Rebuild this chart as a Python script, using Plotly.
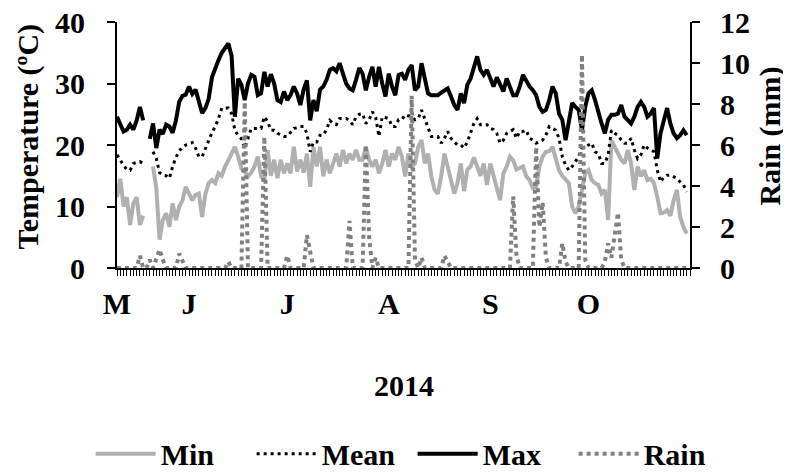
import pandas as pd
import plotly.graph_objects as go

# Daily series, 10 May 2014 - 31 Oct 2014 (175 days)
dates = pd.date_range("2014-05-10", periods=175, freq="D")

t_max = [
    24.6, 23.5, 22.2, 22.5, 23.3, 22.5, 24.0, 26.2, 24.0, None,
    21.0, 23.5, 19.5, 22.5, 21.8, 23.3, 23.0, 22.0, 24.0, 27.0,
    28.0, 28.2, 29.5, 28.3, 29.0, 27.0, 25.2, 26.0, 27.5, 31.0,
    32.5, 33.8, 35.0, 35.8, 36.5, 34.5, 24.6, 30.8, 29.8, 27.3,
    30.0, 31.4, 31.1, 28.1, 28.4, 31.9, 29.5, 31.5, 30.0, 27.3,
    27.0, 28.7, 27.3, 28.1, 29.5, 28.4, 26.5, 29.0, 30.5, 24.0,
    27.3, 25.5, 29.0, 29.5, 30.6, 32.2, 32.5, 32.0, 33.3, 31.6,
    30.0, 29.2, 28.9, 30.6, 32.5, 31.6, 28.9, 31.1, 32.7, 29.5,
    32.7, 30.0, 27.9, 31.6, 29.5, 28.1, 31.4, 31.6, 30.6, 32.2,
    33.0, 28.9, 29.5, 33.3, 30.6, 28.4, 28.1, 28.1, 28.1, 28.5,
    28.9, 29.2, 27.9, 26.5, 25.7, 28.4, 26.8, 29.8, 30.8, 32.5,
    34.4, 32.2, 31.4, 32.2, 30.6, 29.5, 31.0, 30.0, 28.7, 30.8,
    29.5, 28.1, 28.1, 29.5, 31.4, 30.3, 29.5, 28.9, 28.1, 26.2,
    25.4, 25.7, 27.3, 29.5, 28.4, 25.1, 24.1, 20.8, 24.1, 26.8,
    26.2, 25.7, 22.4, 26.2, 28.4, 28.9, 27.3, 25.1, 23.5, 21.9,
    24.1, 24.9, 24.9, 25.1, 26.5, 24.6, 24.0, 23.5, 24.6, 26.2,
    27.0, 26.2, 24.6, 25.1, 26.0, 17.8, 21.9, 24.1, 26.0, 23.5,
    21.9, 21.1, 21.6, 22.4, 21.6,
]

t_mean = [
    18.4, 17.5, 16.7, 16.0, 15.9, 17.0, 17.2, 17.3, 17.0, None,
    None, 18.9, 17.8, 15.5, 15.1, 15.0, 14.6, 16.5, 18.0, 19.0,
    19.7, 20.0, 20.2, 20.4, 19.5, 18.1, 18.1, 19.5, 20.8, 22.0,
    23.0, 24.3, 26.0, 26.0, 26.0, 25.1, 22.4, 21.5, 21.0, 19.5,
    21.0, 22.7, 22.7, 22.7, 22.7, 24.6, 23.8, 22.4, 22.4, 21.9,
    21.6, 21.4, 21.4, 22.0, 22.7, 22.8, 23.0, 23.0, 21.9, 18.9,
    20.5, 20.5, 21.6, 21.6, 22.5, 24.0, 23.5, 23.3, 24.3, 24.3,
    24.3, 24.0, 23.3, 24.6, 25.0, 25.1, 23.5, 24.1, 25.4, 24.5,
    21.4, 24.6, 24.5, 24.3, 23.0, 23.0, 24.1, 24.1, 24.9, 24.8,
    24.6, 24.1, 24.3, 25.7, 24.3, 23.0, 21.4, 21.4, 21.4, 20.3,
    21.1, 22.2, 21.1, 20.5, 20.0, 20.0, 19.5, 20.5, 22.2, 23.5,
    24.3, 23.3, 23.3, 23.3, 22.7, 22.5, 21.9, 20.3, 20.8, 21.9,
    22.2, 22.5, 21.1, 22.2, 22.2, 22.4, 21.1, 20.8, 20.3, 20.5,
    20.8, 21.6, 23.0, 22.7, 22.4, 21.1, 18.1, 16.7, 15.9, 16.5,
    17.2, 18.1, 19.5, 19.7, 20.0, 20.3, 18.9, 18.6, 17.0, 17.0,
    18.4, 22.4, 21.9, 21.6, 20.8, 20.3, 20.3, 21.1, 19.2, 17.8,
    18.4, 20.0, 19.5, 19.2, 18.9, 15.9, 14.0, 14.8, 15.1, 15.1,
    14.8, 14.6, 14.0, 13.5, 12.4,
]

t_min = [
    11.5, 14.5, 10.0, 11.5, 7.0, 10.5, 11.5, 7.0, 8.5, None,
    None, 16.5, 13.0, 4.6, 7.8, 8.9, 6.7, 10.5, 7.8, 10.0,
    11.0, 13.2, 12.0, 11.0, 11.9, 12.1, 8.3, 12.1, 13.8, 14.3,
    13.8, 15.4, 15.0, 16.5, 17.5, 18.6, 19.7, 18.1, 16.2, 15.7,
    14.9, 15.5, 16.5, 18.1, 14.9, 14.3, 19.2, 15.0, 17.6, 14.6,
    17.6, 15.4, 17.0, 15.4, 19.7, 15.7, 17.6, 15.5, 18.6, 13.2,
    19.7, 16.5, 19.7, 14.9, 17.6, 15.4, 17.0, 18.6, 16.5, 19.2,
    17.0, 18.6, 17.6, 19.2, 17.6, 17.6, 19.7, 17.6, 16.5, 17.6,
    15.4, 17.0, 19.2, 16.5, 18.6, 17.6, 19.7, 18.1, 14.9, 18.6,
    16.5, 17.0, 19.7, 20.8, 17.0, 18.6, 14.9, 12.7, 12.1, 14.9,
    18.6, 16.5, 14.0, 12.1, 13.8, 17.0, 12.5, 16.0, 16.5, 18.0,
    16.5, 15.0, 17.0, 13.5, 17.0, 14.9, 13.2, 11.0, 15.4, 16.5,
    18.1, 17.5, 16.0, 16.3, 16.5, 14.9, 14.3, 13.0, 13.2, 16.5,
    18.1, 18.9, 19.0, 19.7, 17.6, 15.9, 15.0, 14.5, 13.8, 10.0,
    8.9, 10.0, 12.5, 15.4, 15.9, 14.3, 13.8, 13.5, 12.1, 12.7,
    7.8, 20.8, 19.7, 18.6, 17.6, 17.0, 19.2, 17.0, 12.7, 16.5,
    14.9, 15.9, 14.3, 14.5, 13.8, 11.6, 8.9, 9.0, 9.4, 8.5,
    11.0, 12.7, 8.3, 6.7, 5.6,
]

rain = [
    0, 0, 0, 0, 0, 0, 0, 0.6, 0, 0,
    0.4, 0, 0.4, 0.9, 0.4, 0, 0, 0, 0, 0.7,
    0.3, 0, 0, 0, 0, 0, 0, 0, 0, 0,
    0, 0, 0, 0, 0.3, 0, 0, 0, 0, 8.1,
    0, 0, 0, 0, 0, 6.4, 0, 0, 0, 0,
    0, 0, 0.6, 0, 0, 0, 0, 0, 1.6, 0.8,
    0, 0, 0, 0, 0, 0, 0, 0, 0, 0,
    0, 2.3, 0, 0, 0, 0, 6.0, 1.5, 0, 0.5,
    0, 0, 0, 0, 0, 0, 0, 0, 0, 0,
    8.4, 0.4, 0, 0.5, 0, 0, 0, 0, 0, 0,
    0.6, 0.3, 0, 0, 0, 0, 0, 0, 0, 0,
    0, 0, 0, 0, 0, 0, 0, 0, 0, 0,
    0, 3.5, 0.6, 0, 0, 0, 0, 0, 5.9, 2.0,
    3.2, 0.5, 0, 0, 0, 0, 1.2, 0.3, 0, 0,
    0, 0, 10.4, 0.4, 0, 0, 0, 0, 0, 0.3,
    1.2, 0.5, 1.5, 2.7, 0.4, 0, 0, 0, 0, 0,
    0, 0, 0, 0, 0, 0, 0, 0, 0, 0,
    0, 0, 0, 0, 0,
]

month_ticks = ["2014-05-10", "2014-06-01", "2014-07-01", "2014-08-01", "2014-09-01", "2014-10-01"]
month_labels = ["M", "J", "J", "A", "S", "O"]

FONT = "Liberation Serif"
BOLD = dict(family=FONT, color="black", weight="bold")

fig = go.Figure()
fig.add_trace(go.Scatter(x=dates, y=t_min, name="Min", mode="lines",
                         line=dict(color="#b0b0b0", width=4), connectgaps=False))
fig.add_trace(go.Scatter(x=dates, y=t_mean, name="Mean", mode="lines",
                         line=dict(color="black", width=3, dash="3px,4px"), connectgaps=False))
fig.add_trace(go.Scatter(x=dates, y=t_max, name="Max", mode="lines",
                         line=dict(color="black", width=4), connectgaps=False))
fig.add_trace(go.Scatter(x=dates, y=rain, name="Rain", mode="lines", yaxis="y2",
                         line=dict(color="#808080", width=4, dash="4px,4px")))

# The page body adds an 8 px offset; size the figure so the plot lands where the reference has it.
fig.update_layout(
    width=783, height=465,
    margin=dict(l=109, r=101, t=14, b=205, autoexpand=False),
    paper_bgcolor="white", plot_bgcolor="white",
    showlegend=True,
    legend=dict(orientation="h", x=-0.046, xanchor="left",
                y=-0.755, yanchor="middle",
                font=dict(size=30, **BOLD), itemwidth=60, entrywidth=86,
                entrywidthmode="pixels", traceorder="normal"),
    xaxis=dict(
        type="date", range=["2014-05-10", "2014-11-01"],
        tickmode="array", tickvals=month_ticks, ticktext=month_labels,
        ticks="outside", ticklen=6, tickcolor="black",
        tickfont=dict(size=30, **BOLD), ticklabelstandoff=2,
        showline=True, linecolor="black", linewidth=2,
        showgrid=False, zeroline=False,
        minor=dict(dtick=86400000, tick0="2014-05-10", ticks="outside",
                   ticklen=6, tickcolor="black", tickwidth=1, showgrid=False),
    ),
    yaxis=dict(
        range=[0, 40], dtick=10, ticks="outside", ticklen=8, tickwidth=2, tickcolor="black",
        tickfont=dict(size=30, **BOLD), ticklabelstandoff=16, ticklabeloverflow="allow",
        showline=True, linecolor="black", linewidth=2,
        showgrid=False, zeroline=False,
    ),
    yaxis2=dict(
        range=[0, 12], dtick=2, overlaying="y", side="right",
        ticks="outside", ticklen=8, tickwidth=2, tickcolor="black",
        tickfont=dict(size=30, **BOLD), ticklabelstandoff=14, ticklabeloverflow="allow",
        showline=True, linecolor="black", linewidth=2,
        showgrid=False, zeroline=False,
    ),
    annotations=[
        dict(text="Temperature (ºC)", xref="paper", yref="paper", x=-0.155, y=0.535,
             textangle=-90, showarrow=False, font=dict(size=30, **BOLD),
             xanchor="center", yanchor="middle"),
        dict(text="Rain (mm)", xref="paper", yref="paper", x=1.14, y=0.535,
             textangle=-90, showarrow=False, font=dict(size=30, **BOLD),
             xanchor="center", yanchor="middle"),
        dict(text="2014", xref="paper", yref="paper", x=0.5, y=-0.476,
             showarrow=False, font=dict(size=30, **BOLD),
             xanchor="center", yanchor="middle"),
    ],
)

fig.write_html("out.html")
